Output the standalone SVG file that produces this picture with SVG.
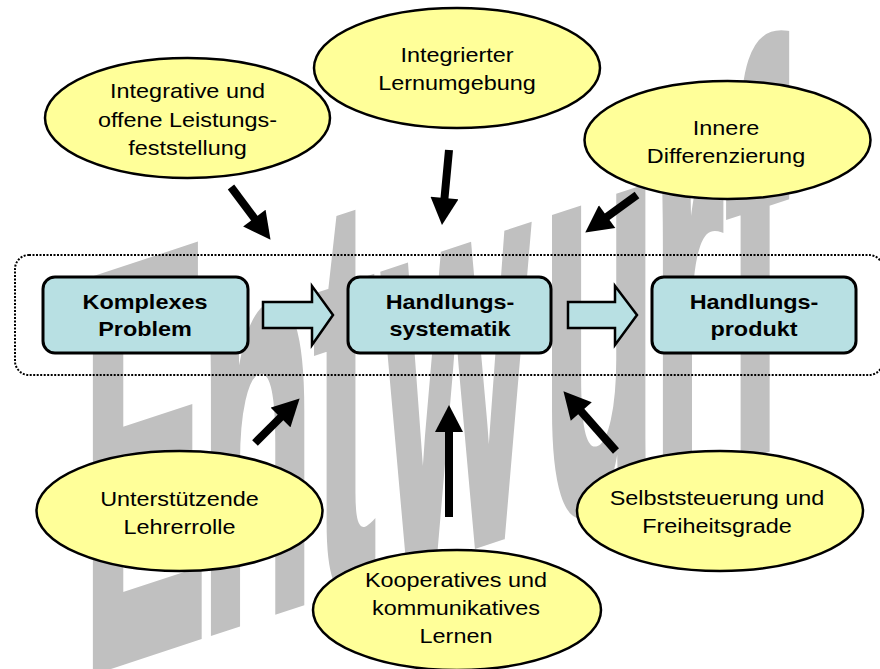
<svg xmlns="http://www.w3.org/2000/svg" width="880" height="669" viewBox="0 0 880 669">
<style>
  .ell { fill: #ffff99; stroke: #000; stroke-width: 2.5; }
  .box { fill: #b8e0e3; stroke: #000; stroke-width: 3; }
  .barrow { fill: #b8e0e3; stroke: #000; stroke-width: 2.5; stroke-linejoin: miter; }
  .t { font-family: "Liberation Sans", Arial, sans-serif; font-size: 21px; fill: #000; text-anchor: middle; }
  .b { font-family: "Liberation Sans", Arial, sans-serif; font-size: 21px; font-weight: bold; fill: #000; text-anchor: middle; }
  .con { stroke: #000; stroke-width: 8; fill: none; marker-end: url(#ah); }
  .wm { font-family: "Liberation Sans", Arial, sans-serif; font-size: 100px; font-weight: bold; fill: #c0c0c0; stroke: #c0c0c0; stroke-width: 7.5; stroke-linejoin: miter; vector-effect: non-scaling-stroke; }
</style>
<defs>
  <marker id="ah" markerUnits="userSpaceOnUse" markerWidth="28" markerHeight="28" viewBox="0 0 26 27" refX="2" refY="13.5" orient="auto">
    <path d="M0,0 L26,13.5 L0,27 z" fill="#000"/>
  </marker>
</defs>

<g id="watermark">
  <text class="wm" transform="matrix(1.88 -0.62 0 5.65 0 700.6)" x="43.6 106.1 166.7 203.7 288.3 346.5 385.4" y="0">Entwurf</text>
</g>

<g id="frame">
  <rect x="15" y="255" width="868" height="120" rx="14" ry="14" fill="none" stroke="#000" stroke-width="2" stroke-dasharray="2 1.5"/>
</g>

<g id="node-komplexes">
  <rect class="box" x="43" y="277" width="205" height="76" rx="12" ry="12"/>
  <text class="b" transform="translate(145,309) scale(1.115,1)">Komplexes</text>
  <text class="b" transform="translate(145,336) scale(1.115,1)">Problem</text>
</g>
<g id="node-systematik">
  <rect class="box" x="348" y="277" width="203" height="76" rx="12" ry="12"/>
  <text class="b" transform="translate(450,309) scale(1.115,1)">Handlungs-</text>
  <text class="b" transform="translate(450,336) scale(1.115,1)">systematik</text>
</g>
<g id="node-produkt">
  <rect class="box" x="652" y="277" width="204" height="76" rx="12" ry="12"/>
  <text class="b" transform="translate(754,309) scale(1.115,1)">Handlungs-</text>
  <text class="b" transform="translate(754,336) scale(1.115,1)">produkt</text>
</g>

<g id="flow-arrows">
  <path class="barrow" d="M263,302 L312,302 L312,286 L333,315 L312,345 L312,328 L263,328 z"/>
  <path class="barrow" d="M568,302 L615,302 L615,286 L637,315 L615,345 L615,328 L568,328 z"/>
</g>

<g id="node-leistung">
  <ellipse class="ell" cx="187.5" cy="118" rx="142.5" ry="60"/>
  <text class="t" transform="translate(187.5,98) scale(1.115,1)">Integrative und</text>
  <text class="t" transform="translate(187.5,127) scale(1.115,1)">offene Leistungs-</text>
  <text class="t" transform="translate(187.5,155) scale(1.115,1)">feststellung</text>
</g>
<g id="node-lernumgebung">
  <ellipse class="ell" cx="457" cy="68" rx="143" ry="60"/>
  <text class="t" transform="translate(457,62) scale(1.115,1)">Integrierter</text>
  <text class="t" transform="translate(457,90) scale(1.115,1)">Lernumgebung</text>
</g>
<g id="node-differenzierung">
  <ellipse class="ell" cx="727.5" cy="140" rx="143" ry="59"/>
  <text class="t" transform="translate(726,135) scale(1.115,1)">Innere</text>
  <text class="t" transform="translate(726,163) scale(1.115,1)">Differenzierung</text>
</g>
<g id="node-lehrerrolle">
  <ellipse class="ell" cx="179.5" cy="511" rx="143" ry="60"/>
  <text class="t" transform="translate(179.5,506) scale(1.115,1)">Unterstützende</text>
  <text class="t" transform="translate(179.5,534) scale(1.115,1)">Lehrerrolle</text>
</g>
<g id="node-kooperativ">
  <ellipse class="ell" cx="457" cy="610" rx="144" ry="60"/>
  <text class="t" transform="translate(456,587) scale(1.115,1)">Kooperatives und</text>
  <text class="t" transform="translate(456,615) scale(1.115,1)">kommunikatives</text>
  <text class="t" transform="translate(456,643) scale(1.115,1)">Lernen</text>
</g>
<g id="node-selbststeuerung">
  <ellipse class="ell" cx="720" cy="511" rx="143" ry="60"/>
  <text class="t" transform="translate(717,505) scale(1.115,1)">Selbststeuerung und</text>
  <text class="t" transform="translate(717,533) scale(1.115,1)">Freiheitsgrade</text>
</g>

<g id="connectors">
  <line class="con" x1="231" y1="187" x2="255.6" y2="219.8"/>
  <line class="con" x1="449" y1="150" x2="444.3" y2="200.1"/>
  <line class="con" x1="637" y1="195" x2="605.4" y2="217.9"/>
  <line class="con" x1="255" y1="443" x2="282" y2="416"/>
  <line class="con" x1="449" y1="517" x2="449" y2="430"/>
  <line class="con" x1="616" y1="451" x2="579.9" y2="410"/>
</g>
</svg>
